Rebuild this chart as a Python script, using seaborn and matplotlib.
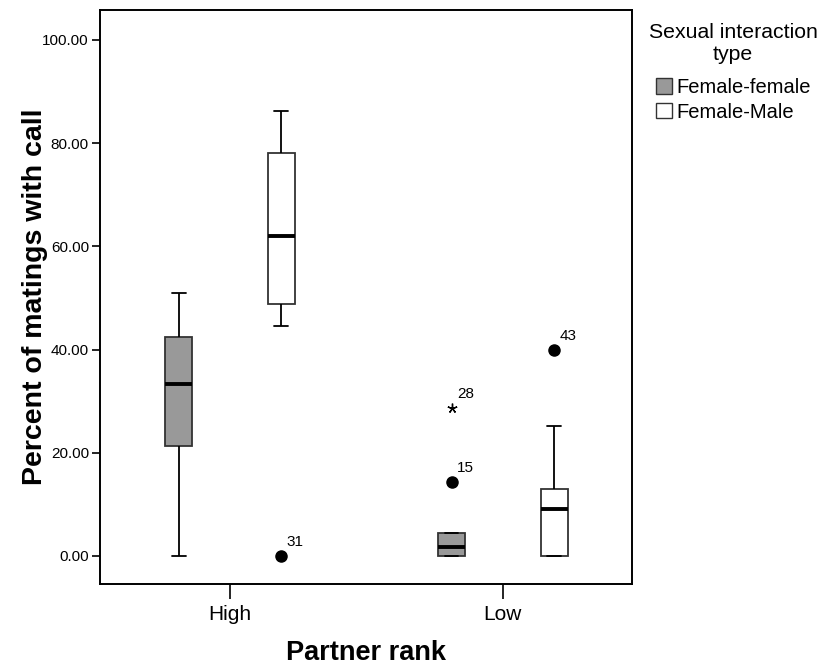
import numpy as np
import pandas as pd
import seaborn as sns
import matplotlib.pyplot as plt
from matplotlib.patches import Patch
from matplotlib.ticker import FormatStrFormatter

# ---- data ----
ranks = ["High", "Low"]
types = ["Female-female", "Female-Male"]
# five-number summaries: lower whisker, Q1, median, Q3, upper whisker
ff_high = [0.0, 21.4, 33.4, 42.4, 50.9]
fm_high = [44.6, 48.9, 62.0, 78.0, 86.2]
ff_low = [0.0, 0.0, 1.8, 4.5, 4.5]
fm_low = [0.0, 0.0, 9.1, 12.9, 25.1]

# outliers / extremes
out_rank = ["High", "Low", "Low", "Low"]
out_type = ["Female-Male", "Female-female", "Female-female", "Female-Male"]
out_value = [0.0, 14.4, 28.6, 40.0]
out_id = ["31", "15", "28", "43"]
out_marker = ["o", "o", "*", "o"]

y_ticks = [0, 20, 40, 60, 80, 100]
colors = {"Female-female": "#999999", "Female-Male": "#ffffff"}

rows = []
for r, t, vals in [("High", types[0], ff_high), ("High", types[1], fm_high),
                   ("Low", types[0], ff_low), ("Low", types[1], fm_low)]:
    for v in vals:
        rows.append({"rank": r, "type": t, "value": v})
df = pd.DataFrame(rows)

sns.set_style("white")
plt.rcParams["font.family"] = ["Liberation Sans", "DejaVu Sans"]
plt.rcParams["text.color"] = "black"
plt.rcParams["axes.labelcolor"] = "black"
plt.rcParams["xtick.color"] = "black"
plt.rcParams["ytick.color"] = "black"

fig = plt.figure(figsize=(8.21, 6.66), dpi=100)
ax = fig.add_axes([100 / 821, 1 - 584 / 666, 532 / 821, 574 / 666])

width = 0.75
sns.boxplot(data=df, x="rank", y="value", hue="type", order=ranks,
            hue_order=types, palette=colors, width=width, gap=0.736,
            whis=(0, 100), showfliers=False, linecolor="black",
            linewidth=1.3, legend=False, ax=ax,
            boxprops=dict(edgecolor="#333333"),
            medianprops=dict(color="black", linewidth=2.8))

offset = width / 4
for r, t, v, lab, m in zip(out_rank, out_type, out_value, out_id, out_marker):
    x = ranks.index(r) + (-offset if t == types[0] else offset)
    if m == "o":
        ax.plot([x], [v], marker="o", color="black", markersize=8,
                linestyle="none", zorder=5)
    else:
        ax.plot([x], [v], marker=(5, 2, 0), color="black", markersize=7,
                markeredgewidth=1.0, linestyle="none", zorder=5)
    ax.annotate(lab, (x, v), xytext=(4, 5), textcoords="offset points",
                ha="left", va="bottom", fontsize=11)

ax.set_xlim(-0.476, 1.473)
ax.set_ylim(-5.43, 105.8)
ax.set_yticks(y_ticks)
ax.yaxis.set_major_formatter(FormatStrFormatter("%.2f"))
ax.tick_params(axis="y", direction="out", length=6, width=1.2,
               labelsize=11, color="black", labelcolor="black", left=True, pad=2)
ax.tick_params(axis="x", direction="out", length=11, width=1.2,
               labelsize=15, color="black", labelcolor="black", bottom=True, pad=4)
for s in ax.spines.values():
    s.set_visible(True)
    s.set_color("black")
    s.set_linewidth(1.4)

ax.set_ylabel("Percent of matings with call", fontsize=20.5,
              fontweight="bold", color="black")
ax.set_xlabel("Partner rank", fontsize=19.5, fontweight="bold", color="black")
ax.yaxis.set_label_coords(-0.098, 0.5)
ax.xaxis.set_label_coords(0.5, -0.098)

# legend title as separate centered text
fig.text(733 / 821, 1 - 33 / 666, "Sexual interaction", ha="center",
         va="center", fontsize=15.3, color="black")
fig.text(733 / 821, 1 - 55 / 666, "type", ha="center", va="center",
         fontsize=15.3, color="black")

handles = [Patch(facecolor=colors[t], edgecolor="#333333", linewidth=1.0)
           for t in types]
leg = fig.legend(handles, types, loc="upper left",
                 bbox_to_anchor=(656 / 821, 1 - 78 / 666),
                 frameon=False, fontsize=14.5,
                 handlelength=0.8, handleheight=0.8, handletextpad=0.2,
                 labelspacing=0.28, borderpad=0, borderaxespad=0)

fig.savefig("out.png", dpi=100)
